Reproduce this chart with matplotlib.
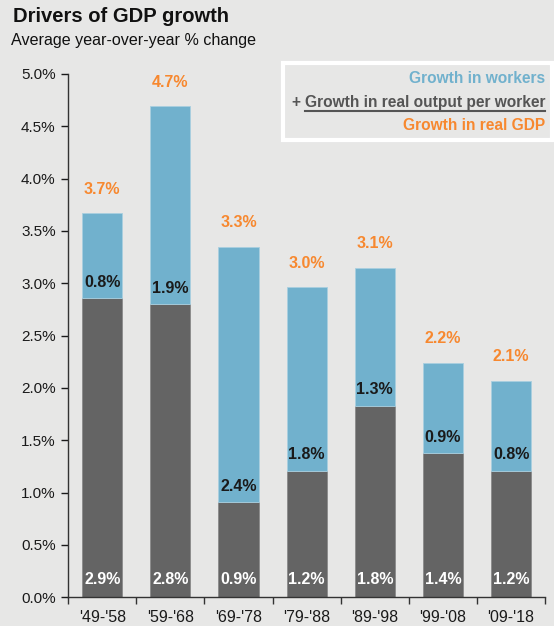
import numpy as np
import matplotlib.pyplot as plt
from matplotlib.patches import Rectangle
from matplotlib.lines import Line2D

plt.rcParams['font.family'] = ['Liberation Sans', 'DejaVu Sans']

periods = ["'49-'58", "'59-'68", "'69-'78", "'79-'88", "'89-'98", "'99-'08", "'09-'18"]
output_per_worker = [2.86, 2.80, 0.91, 1.21, 1.83, 1.38, 1.21]
workers = [0.81, 1.89, 2.44, 1.75, 1.32, 0.86, 0.86]
output_labels = ['2.9%', '2.8%', '0.9%', '1.2%', '1.8%', '1.4%', '1.2%']
workers_labels = ['0.8%', '1.9%', '2.4%', '1.8%', '1.3%', '0.9%', '0.8%']
gdp_labels = ['3.7%', '4.7%', '3.3%', '3.0%', '3.1%', '2.2%', '2.1%']

bg = '#e7e7e6'
dark = '#646464'
blue = '#71b1cd'
orange = '#f7882f'

fig = plt.figure(figsize=(5.54, 6.26), dpi=100, facecolor=bg)
ax = fig.add_axes([0.123, 0.046, 0.861, 0.836], facecolor=bg)

x = np.arange(len(periods))
w = 0.59
ax.bar(x, output_per_worker, w, color=dark, edgecolor='#8a8a8a', linewidth=0.6, zorder=2)
ax.bar(x, workers, w, bottom=output_per_worker, color=blue, edgecolor='#a9cfe0',
       linewidth=0.6, zorder=2)

for i in range(len(periods)):
    total = output_per_worker[i] + workers[i]
    ax.text(x[i], 0.17, output_labels[i], ha='center', va='center', color='white',
            fontsize=11.5, fontweight='bold', zorder=3)
    ax.text(x[i], output_per_worker[i] + 0.15, workers_labels[i], ha='center', va='center',
            color='#1a1a1a', fontsize=11.5, fontweight='bold', zorder=3)
    ax.text(x[i], total + 0.23, gdp_labels[i], ha='center', va='center', color=orange,
            fontsize=11.5, fontweight='bold', zorder=3)

ax.set_xlim(-0.5, len(periods) - 0.5)
ax.set_ylim(0, 5.0)
ax.set_yticks(np.arange(0, 5.01, 0.5))
ax.set_yticklabels(['%.1f%%' % v for v in np.arange(0, 5.01, 0.5)])
ax.set_xticks(x)
ax.set_xticklabels(periods)
ax.set_xticks(np.arange(-0.5, len(periods)), minor=True)
ax.tick_params(axis='x', which='major', length=0, pad=9, labelsize=11.5, colors='#1a1a1a')
ax.tick_params(axis='x', which='minor', length=5, width=1, direction='out', color='#333333')
ax.tick_params(axis='y', length=5, width=1, direction='out', pad=4, labelsize=11,
               colors='#1a1a1a')
for s in ['top', 'right']:
    ax.spines[s].set_visible(False)
for s in ['left', 'bottom']:
    ax.spines[s].set_color('#333333')
    ax.spines[s].set_linewidth(1)

fig.text(0.024, 0.974, 'Drivers of GDP growth', fontsize=14.5, fontweight='bold',
         color='#111111', va='center')
fig.text(0.02, 0.935, 'Average year-over-year % change', fontsize=11.6,
         color='#111111', va='center')

# legend box
fig.patches.append(Rectangle((0.510, 0.777), 0.486, 0.122, transform=fig.transFigure,
                             facecolor='none', edgecolor='white', linewidth=3))
rx = 0.984
fig.text(rx, 0.874, 'Growth in workers', ha='right', va='center', color=blue,
         fontsize=11.2, fontweight='bold')
t2 = fig.text(rx, 0.837, 'Growth in real output per worker', ha='right', va='center',
              color='#555555', fontsize=11.2, fontweight='bold')
fig.text(0.56, 0.837, '+', ha='right', va='center', color='#555555',
         fontsize=11.2, fontweight='bold')
fig.text(rx, 0.800, 'Growth in real GDP', ha='right', va='center', color=orange,
         fontsize=11.2, fontweight='bold')

fig.canvas.draw()
bb = t2.get_window_extent().transformed(fig.transFigure.inverted())
fig.lines.append(Line2D([bb.x0, bb.x1], [bb.y0 - 0.002, bb.y0 - 0.002],
                        transform=fig.transFigure, color='#555555', linewidth=1.5))
fig.texts[-2].set_x(bb.x0 - 0.008)

fig.savefig('out.png', dpi=100, facecolor=bg)
